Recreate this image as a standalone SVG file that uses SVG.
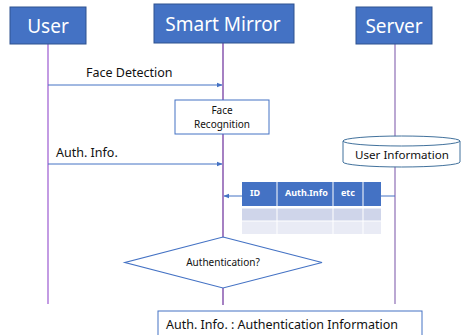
<svg xmlns="http://www.w3.org/2000/svg" width="461" height="335" viewBox="0 0 461 335">
<defs>
<style>
.hdr{fill:#4472C4;stroke:#2F528F;stroke-width:1}
.hdrt{fill:#fff;font-family:"Noto Sans","Open Sans",sans-serif;font-size:19px;text-anchor:middle}
.t{fill:#111;font-family:"Noto Sans","Open Sans",sans-serif}
.msg{stroke:#4472C4;stroke-width:1;fill:none;marker-end:url(#ah)}
.box{fill:#fff;stroke:#4472C4;stroke-width:1}
.th{fill:#4472C4}
.r1{fill:#CFD5EA}
.r2{fill:#E9EBF5}
.tht{fill:#fff;font-family:"Noto Sans","Open Sans",sans-serif;font-size:9px;font-weight:bold}
</style>
<marker id="ah" viewBox="0 0 10 10" refX="9" refY="5" markerWidth="6" markerHeight="6" orient="auto"><path d="M0,1 L10,5 L0,9 z" fill="#4472C4"/></marker>
</defs>
<g id="lifelines">
<line x1="48" y1="44" x2="48" y2="304" stroke="#9B59D0" stroke-width="1.2"/>
<line x1="223" y1="43" x2="223" y2="100" stroke="#6A2C9A" stroke-width="1.2"/>
<line x1="223" y1="134" x2="223" y2="237" stroke="#6A2C9A" stroke-width="1.2"/>
<line x1="223" y1="288" x2="223" y2="305" stroke="#6A2C9A" stroke-width="1.2"/>
<line x1="395" y1="44" x2="395" y2="304" stroke="#A58BC4" stroke-width="1.5"/>
</g>
<g id="user"><rect class="hdr" x="10" y="7" width="76" height="37"/><text class="hdrt" x="48" y="33">User</text></g>
<g id="mirror"><rect class="hdr" x="154" y="4" width="140" height="39"/><text class="hdrt" x="223" y="31">Smart Mirror</text></g>
<g id="server"><rect class="hdr" x="356" y="7" width="76" height="37"/><text class="hdrt" x="394" y="33">Server</text></g>
<g id="connectors">
<line class="msg" x1="48" y1="85" x2="222" y2="85"/>
<line class="msg" x1="48" y1="164" x2="222" y2="164"/>
<line class="msg" x1="395" y1="196" x2="224" y2="196"/>
</g>
<g id="labels">
<text class="t" x="86" y="77" font-size="12.5">Face Detection</text>
<text class="t" x="56" y="157" font-size="12.5">Auth. Info.</text>
</g>
<g id="face-recognition"><rect class="box" x="175" y="100" width="94" height="34"/>
<text class="t" x="222" y="114" font-size="10" text-anchor="middle">Face</text>
<text class="t" x="222" y="128" font-size="10" text-anchor="middle">Recognition</text></g>
<g id="user-information">
<path d="M343,141 A58.5,5 0 0 1 460,141 L460,162 A58.5,5 0 0 1 343,162 Z" fill="#fff" stroke="#41719C" stroke-width="1"/>
<path d="M343,141 A58.5,5 0 0 0 460,141" fill="none" stroke="#41719C" stroke-width="1"/>
<text class="t" x="402" y="159" font-size="11.6" text-anchor="middle">User Information</text>
</g>
<g id="table">
<rect class="th" x="242" y="182" width="139" height="24"/>
<g stroke="#fff" stroke-width="1"><line x1="277" y1="182" x2="277" y2="206"/><line x1="333" y1="182" x2="333" y2="206"/><line x1="363" y1="182" x2="363" y2="206"/></g>
<rect x="242" y="206" width="139" height="2.5" fill="#fff"/>
<rect class="r1" x="242" y="208.5" width="34.5" height="12"/><rect class="r1" x="277.5" y="208.5" width="55" height="12"/><rect class="r1" x="333.5" y="208.5" width="29" height="12"/><rect class="r1" x="363.5" y="208.5" width="17.5" height="12"/>
<rect class="r2" x="242" y="221.5" width="34.5" height="12.5"/><rect class="r2" x="277.5" y="221.5" width="55" height="12.5"/><rect class="r2" x="333.5" y="221.5" width="29" height="12.5"/><rect class="r2" x="363.5" y="221.5" width="17.5" height="12.5"/>
<text class="tht" x="250" y="196">ID</text>
<text class="tht" x="285" y="196">Auth.Info</text>
<text class="tht" x="341" y="196">etc</text>
</g>
<g id="authentication">
<polygon points="223,237 322,262.5 223,288 125,262.5" fill="#fff" stroke="#4472C4" stroke-width="1.2"/>
<text class="t" x="223" y="266" font-size="10" text-anchor="middle">Authentication?</text>
</g>
<g id="legend">
<rect x="158" y="311" width="264" height="30" fill="#fff" stroke="#4472C4" stroke-width="1"/>
<text class="t" x="166" y="329" font-size="12.5">Auth. Info. : Authentication Information</text>
</g>
</svg>
